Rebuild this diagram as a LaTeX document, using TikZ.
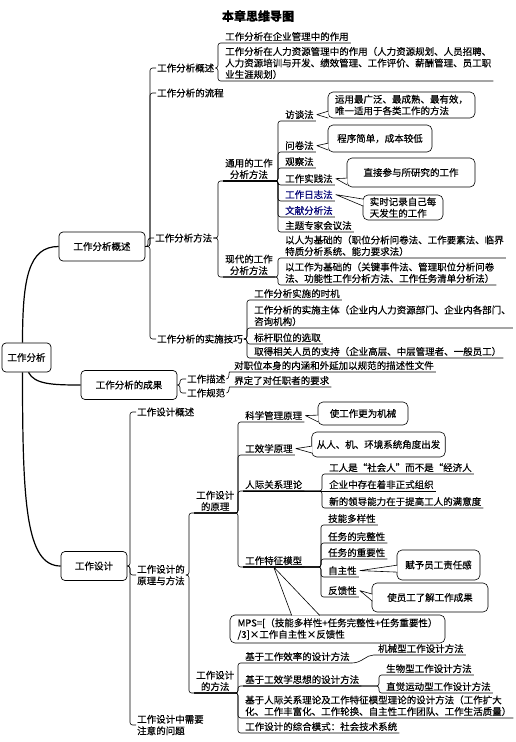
\documentclass[tikz,border=0pt]{standalone}
\usepackage{fontspec}
\setmainfont{Noto Sans CJK SC}[FakeBold=0.35]
\usetikzlibrary{calc}

\begin{document}
\begin{tikzpicture}[x=1pt,y=-1pt,font=\fontsize{9.5}{11.5}\selectfont,
  box/.style={draw,rounded corners=4pt,line width=0.7pt,fill=white,minimum height=29pt,inner xsep=5pt},
  itm/.style={anchor=west,inner xsep=1pt,inner ysep=1pt,align=left},
  uln/.style={anchor=south west,inner xsep=2pt,inner ysep=1.8pt,align=left},
  cbox/.style={draw,rounded corners=5pt,line width=0.6pt,fill=white,align=left,inner xsep=5pt,inner ysep=2pt},
  br/.style={line width=0.6pt,rounded corners=2.5pt},
  ptr/.style={line width=0.6pt,fill=white,line join=round},
  stem/.style={line width=1.2pt}]
\useasboundingbox (0,0) rectangle (516,742);

\node[font=\fontsize{12}{14}\selectfont\bfseries] (title) at (258,16) {本章思维导图};

% main boxes
\node[box,minimum width=49pt] (root) at (26.5,357.5) {工作分析};
\node[box,minimum width=86pt] (ov)   at (102,246.5) {工作分析概述};
\node[box,minimum width=96pt] (res)  at (129,385)   {工作分析的成果};
\node[box,minimum width=66pt] (des)  at (94,566)    {工作设计};

\draw[stem] ([xshift=-4pt]root.north) .. controls +(0,-65) and +(-30,0) .. (ov.west);
\draw[stem] ([xshift=2pt]root.south) .. controls +(6,12) and +(-28,0) .. (res.west);
\draw[stem] ([xshift=-4pt]root.south) .. controls +(0,130) and +(-35,0) .. (des.west);

% first level items
\node[itm] (a1) at (156,68)  {工作分析概述};
\node[itm] (a2) at (156,93)  {工作分析的流程};
\node[itm] (a3) at (154,238) {工作分析方法};
\node[itm] (a4) at (156,339) {工作分析的实施技巧};
\node[itm] (b1) at (186,379) {工作描述};
\node[itm] (b2) at (186,393) {工作规范};
\node[itm] (c1) at (136,412) {工作设计概述};
\node[itm] (c2) at (136,575) {工作设计的\\原理与方法};
\node[itm] (c3) at (136,725) {工作设计中需要\\注意的问题};

% underlined items
\node[uln] (a11) at (223,43) {工作分析在企业管理中的作用};
\node[uln] (a12) at (223,81) {工作分析在人力资源管理中的作用（人力资源规划、人员招聘、\\人力资源培训与开发、绩效管理、工作评价、薪酬管理、员工职\\业生涯规划）};
\node[uln,align=center] (a31) at (223,181) {通用的工作\\分析方法};
\node[uln,align=center] (a32) at (223,277) {现代的工作\\分析方法};
\foreach \nm/\yy/\tx/\cl in {m1/121/访谈法/black, m2/152/问卷法/black, m3/168/观察法/black,
  m4/185/工作实践法/black, m5/201/工作日志法/blue!45!black, m6/217/文献分析法/blue!45!black,
  m7/232/主题专家会议法/black}
  \node[uln,text=\cl] (\nm) at (283,\yy) {\tx};
\node[uln] (n1) at (283,258) {以人为基础的（职位分析问卷法、工作要素法、临界\\特质分析系统、能力要求法）};
\node[uln] (n2) at (283,285) {以工作为基础的（关键事件法、管理职位分析问卷\\法、功能性工作分析方法、工作任务清单分析法）};
\node[uln] (p1) at (252,300) {工作分析实施的时机};
\node[uln] (p2) at (252,328) {工作分析的实施主体（企业内人力资源部门、企业内各部门、\\咨询机构）};
\node[uln] (p3) at (252,344) {标杆职位的选取};
\node[uln] (p4) at (252,358) {取得相关人员的支持（企业高层、中层管理者、一般员工）};
\node[uln] (q1) at (232,372) {对职位本身的内涵和外延加以规范的描述性文件};
\node[uln] (q2) at (232,387) {界定了对任职者的要求};

\node[uln,align=center] (c21) at (194,513) {工作设计\\的原理};
\node[uln,align=center] (c22) at (194,693) {工作设计\\的方法};
\foreach \nm/\yy/\tx in {r1/422/科学管理原理, r2/455/工效学原理, r3/491/人际关系理论, r4/567/工作特征模型}
  \node[uln] (\nm) at (243,\yy) {\tx};
\node[uln] (s1) at (327,474) {工人是“社会人”而不是“经济人};
\node[uln] (s2) at (327,491) {企业中存在着非正式组织};
\node[uln] (s3) at (327,508) {新的领导能力在于提高工人的满意度};
\foreach \nm/\yy/\tx in {t1/525/技能多样性, t2/543/任务的完整性, t3/559/任务的重要性, t4/577/自主性, t5/597/反馈性}
  \node[uln] (\nm) at (326,\yy) {\tx};
\node[uln] (u1) at (243,663) {基于工作效率的设计方法};
\node[uln] (u2) at (243,686) {基于工效学思想的设计方法};
\node[uln] (u3) at (243,718) {基于人际关系理论及工作特征模型理论的设计方法（工作扩大\\化、工作丰富化、工作轮换、自主性工作团队、工作生活质量）};
\node[uln] (u4) at (243,733) {工作设计的综合模式：社会技术系统};
\node[uln] (v1) at (376,655) {机械型工作设计方法};
\node[uln] (v2) at (384,675) {生物型工作设计方法};
\node[uln] (v3) at (384,693) {直觉运动型工作设计方法};

% brackets
\foreach \pp/\ch in {ov/a1,ov/a2,ov/a3,ov/a4,res/b1,res/b2,des/c1,des/c2,des/c3}
  \draw[br] (\pp.east) -| ([xshift=-6pt]\ch.west) -- (\ch.west);
\foreach \pp/\ch in {a1/a11,a1/a12,a3/a31,a3/a32,a4/p1,a4/p2,a4/p3,a4/p4,c2/c21,c2/c22}
  \draw[br] (\pp.east) -| ([xshift=-5pt]\ch.south west) -- (\ch.south east);
\foreach \pp/\ch in {a31/m1,a31/m2,a31/m3,a31/m4,a31/m5,a31/m6,a31/m7,a32/n1,a32/n2,
  c21/r1,c21/r2,c21/r3,c21/r4,r3/s1,r3/s3,r4/t1,r4/t2,r4/t3,r4/t4,r4/t5,
  c22/u1,c22/u2,c22/u3,c22/u4,u2/v2,u2/v3}
  \draw[br] (\pp.south west) -| ([xshift=-5pt]\ch.south west) -- (\ch.south east);
\draw[br] (r3.south west) -- (s2.south east);
\draw[br] (b1.east) to[out=0,in=180] (q1.south west) -- (q1.south east);
\draw[br] (b2.east) to[out=0,in=180] (q2.south west) -- (q2.south east);
\draw[br] (u1.south east) to[out=0,in=180] (v1.south west) -- (v1.south east);

% callouts
\node[cbox,minimum width=147pt,minimum height=26pt] (k1) at (401.5,105) {运用最广泛、最成熟、最有效，\\唯一适用于各类工作的方法};
\node[cbox,minimum width=104pt,minimum height=27pt] (k2) at (380,138.5) {程序简单，成本较低};
\node[cbox,minimum width=128pt,minimum height=29pt] (k3) at (411,172.5) {直接参与所研究的工作};
\node[cbox,minimum width=80pt,minimum height=25pt]  (k4) at (403,207.5) {实时记录自己每\\天发生的工作};
\node[cbox,minimum width=90pt,minimum height=23pt]  (k5) at (363,413.5) {使工作更为机械};
\node[cbox,minimum width=133pt,minimum height=25pt] (k6) at (378.5,444.5) {从人、机、环境系统角度出发};
\node[cbox,minimum width=83pt,minimum height=30pt]  (k7) at (438.5,565) {赋予员工责任感};
\node[cbox,minimum width=116pt,minimum height=29pt] (k8) at (430,597.5) {使员工了解工作成果};
\node[cbox,minimum width=215pt,minimum height=28pt] (k9) at (337.5,629) {MPS=[（技能多样性+任务完整性+任务重要性）\\/3]×工作自主性×反馈性};

\foreach \kk/\cc/\dd in {k1/m1/0,k2/m2/1,k3/m4/3,k4/m5/8,k5/r1/3,k6/r2/1,k7/t4/-2,k8/t5/7}
  \filldraw[ptr] ($(\kk.west|-\cc.east)+(0.7,\dd-3.5)$) -- ([xshift=1pt]\cc.east) -- ($(\kk.west|-\cc.east)+(0.7,\dd+3.5)$);
\filldraw[ptr] ($(k9.north west)+(62,0.7)$) -- (r4.south) -- ($(k9.north west)+(90,0.7)$);
\end{tikzpicture}
\end{document}
